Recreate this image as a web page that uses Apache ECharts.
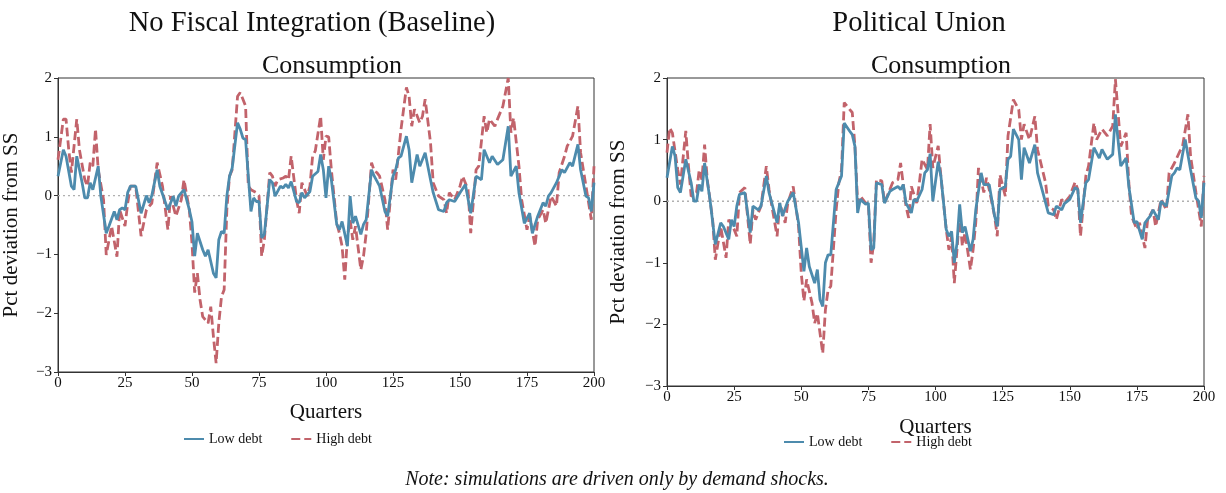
<!DOCTYPE html>
<html>
<head>
<meta charset="utf-8">
<script src="https://cdn.jsdelivr.net/npm/echarts@6/dist/echarts.min.js"></script>
<style>html,body{margin:0;padding:0;background:#fff}#c{width:1226px;height:493px}</style>
</head>
<body>
<div id="c"></div>
<script>
// ---- data ([quarter, pct deviation]) ----
const baseLow = [[0,0.33],[2,0.78],[3,0.67],[5,0.16],[6,0.10],[7,0.67],[9,0.22],[10,-0.04],[11,-0.04],[12,0.22],[13,0.10],[15,0.50],[16,-0.01],[18,-0.64],[19,-0.52],[21,-0.27],[22,-0.41],[23,-0.24],[24,-0.21],[25,-0.24],[26,0.05],[27,0.16],[29,0.16],[31,-0.30],[33,0.0],[34,-0.12],[35,0.0],[37,0.44],[38,0.16],[41,-0.24],[43,-0.01],[44,-0.18],[45,-0.01],[47,0.10],[49,-0.24],[50,-0.45],[51,-1.03],[52,-0.64],[54,-0.92],[55,-1.03],[56,-0.92],[58,-1.32],[59,-1.40],[60,-0.75],[61,-0.61],[62,-0.64],[63,-0.01],[64,0.33],[65,0.47],[67,1.24],[68,1.13],[69,0.98],[70,0.95],[72,-0.27],[73,-0.04],[74,-0.10],[75,-0.10],[76,-0.72],[77,-0.66],[79,0.27],[80,0.22],[81,-0.01],[83,0.16],[84,0.13],[85,0.19],[86,0.13],[87,0.24],[89,-0.10],[90,-0.12],[91,0.05],[92,-0.04],[94,0.07],[95,0.33],[97,0.41],[98,0.70],[99,0.44],[100,-0.04],[101,0.50],[102,0.27],[104,-0.49],[105,-0.58],[106,-0.44],[108,-0.86],[109,-0.01],[110,-0.47],[111,-0.35],[113,-0.66],[114,-0.49],[115,-0.41],[117,0.44],[118,0.33],[120,0.16],[122,-0.27],[123,-0.35],[125,0.33],[126,0.44],[127,0.64],[128,0.67],[130,1.01],[131,0.78],[132,0.22],[134,0.70],[135,0.50],[137,0.73],[139,0.27],[140,0.05],[142,-0.24],[144,-0.27],[145,-0.12],[146,-0.07],[148,-0.10],[150,0.05],[152,0.19],[154,-0.30],[156,0.33],[158,0.27],[159,0.78],[161,0.56],[162,0.67],[164,0.53],[166,0.61],[168,1.18],[169,0.33],[171,0.50],[172,0.05],[174,-0.47],[176,-0.30],[177,-0.64],[179,-0.35],[181,-0.12],[182,-0.18],[183,-0.01],[184,0.05],[186,0.22],[188,0.44],[189,0.39],[191,0.56],[192,0.50],[194,0.87],[195,0.44],[197,-0.01],[198,-0.04],[199,-0.27],[200,0.22]];

const baseHigh = [[0,0.61],[2,1.30],[3,1.30],[4,0.78],[5,0.39],[7,1.30],[8,0.78],[10,0.27],[11,0.16],[12,0.56],[13,0.50],[14,1.13],[15,0.44],[17,-0.07],[18,-1.01],[20,-0.52],[22,-1.04],[23,-0.24],[25,-0.52],[26,-0.13],[27,0.16],[29,0.16],[31,-0.69],[33,-0.24],[35,-0.13],[37,0.56],[39,0.16],[41,-0.58],[42,-0.01],[44,-0.35],[46,-0.07],[47,0.27],[49,-0.24],[50,-0.81],[51,-1.65],[52,-1.32],[53,-1.77],[54,-2.06],[56,-2.17],[57,-1.89],[58,-2.40],[59,-2.85],[60,-2.17],[61,-1.72],[62,-1.60],[63,-0.24],[64,0.33],[65,0.44],[67,1.69],[68,1.75],[69,1.64],[70,1.52],[71,0.16],[72,0.10],[74,0.05],[75,0.0],[76,-1.03],[77,-0.75],[79,0.39],[80,0.33],[81,0.16],[82,0.27],[84,0.30],[85,0.33],[86,0.27],[87,0.67],[89,-0.07],[90,-0.30],[91,0.22],[93,-0.01],[94,0.16],[95,0.67],[96,0.76],[98,1.35],[99,0.61],[100,1.01],[101,1.0],[102,0.44],[104,-0.47],[105,-0.64],[106,-0.86],[107,-1.43],[108,-0.70],[109,-0.41],[110,-0.75],[111,-0.52],[113,-1.26],[114,-1.03],[115,-0.64],[117,0.56],[118,0.42],[119,0.39],[120,0.33],[122,-0.07],[123,-0.58],[125,0.44],[126,0.27],[128,1.13],[130,1.84],[131,1.69],[132,1.18],[133,1.47],[135,1.24],[136,1.35],[137,1.64],[139,0.90],[140,0.22],[142,-0.01],[144,-0.07],[145,-0.30],[146,0.05],[148,-0.07],[150,0.16],[151,0.33],[153,0.10],[154,-0.64],[156,0.44],[157,0.50],[159,1.35],[160,1.07],[161,1.30],[163,1.18],[164,1.30],[166,1.52],[168,2.0],[169,1.07],[170,1.32],[172,0.50],[173,-0.07],[175,-0.58],[176,-0.35],[178,-0.86],[179,-0.41],[181,-0.24],[182,-0.47],[184,-0.01],[186,-0.18],[187,0.39],[189,0.67],[190,0.84],[192,1.01],[194,1.52],[195,0.73],[197,0.16],[199,-0.41],[200,0.50]];

const unionLow = [[0,0.38],[2,0.89],[3,0.73],[4,0.22],[5,0.14],[7,0.68],[9,0.30],[10,0.0],[11,0.0],[12,0.27],[13,0.16],[14,0.62],[16,0.03],[18,-0.70],[20,-0.35],[21,-0.41],[23,-0.62],[24,-0.30],[25,-0.41],[26,-0.08],[27,0.11],[29,0.14],[31,-0.51],[32,-0.08],[34,-0.14],[35,-0.08],[37,0.41],[38,0.14],[41,-0.35],[42,-0.03],[43,-0.24],[45,0.0],[47,0.14],[49,-0.35],[51,-1.14],[52,-0.76],[53,-1.06],[55,-1.33],[56,-1.11],[57,-1.60],[58,-1.71],[59,-1.00],[60,-0.87],[61,-0.87],[63,0.19],[65,0.41],[66,1.27],[68,1.14],[69,1.08],[70,0.89],[71,-0.19],[72,0.03],[74,-0.05],[75,-0.03],[76,-0.79],[77,-0.76],[78,0.30],[80,0.27],[81,-0.03],[83,0.16],[84,0.19],[86,0.24],[87,0.19],[88,0.27],[89,-0.03],[91,-0.19],[92,0.03],[93,0.0],[95,0.19],[96,0.46],[97,0.51],[98,0.77],[99,0.0],[101,0.64],[102,0.41],[104,-0.46],[105,-0.57],[106,-0.49],[107,-1.00],[108,-0.68],[109,-0.05],[110,-0.51],[111,-0.41],[113,-0.81],[114,-0.62],[115,-0.14],[117,0.46],[118,0.27],[120,0.27],[122,-0.24],[123,-0.41],[124,0.19],[126,0.24],[127,0.68],[128,0.73],[129,1.17],[131,1.00],[132,0.35],[133,0.87],[135,0.62],[137,0.92],[138,0.46],[140,0.14],[142,-0.19],[144,-0.22],[145,-0.08],[147,-0.14],[148,-0.04],[150,0.03],[152,0.22],[153,0.19],[154,-0.35],[156,0.30],[157,0.35],[159,0.87],[161,0.70],[162,0.84],[164,0.68],[166,0.76],[167,1.41],[169,0.57],[171,0.70],[172,0.24],[174,-0.35],[175,-0.33],[177,-0.62],[178,-0.35],[180,-0.24],[181,-0.14],[183,-0.30],[184,0.0],[186,-0.08],[188,0.41],[189,0.46],[190,0.54],[191,0.51],[193,1.00],[195,0.51],[197,0.05],[198,0.0],[199,-0.27],[200,0.30]];

const unionHigh = [[0,0.79],[1,1.19],[2,1.11],[4,0.51],[5,0.27],[7,1.14],[8,0.57],[9,0.08],[11,0.14],[12,0.51],[13,0.35],[14,0.92],[15,0.35],[17,-0.30],[18,-0.95],[20,-0.41],[22,-0.92],[23,-0.30],[25,-0.46],[26,-0.57],[27,0.14],[29,0.22],[31,-0.70],[32,-0.14],[33,-0.30],[35,-0.08],[37,0.57],[38,0.19],[41,-0.57],[42,-0.03],[44,-0.35],[45,-0.03],[47,0.24],[49,-0.41],[50,-1.17],[51,-1.62],[52,-1.27],[54,-1.65],[55,-1.98],[56,-1.82],[58,-2.47],[59,-1.76],[60,-1.44],[61,-1.38],[63,-0.14],[64,0.30],[65,0.51],[66,1.60],[68,1.49],[69,1.44],[70,0.89],[71,-0.03],[72,0.08],[74,-0.03],[75,-0.03],[76,-1.00],[77,-0.68],[78,0.35],[80,0.33],[81,-0.03],[83,0.19],[84,0.30],[86,0.35],[87,0.62],[89,-0.08],[90,-0.27],[91,0.24],[93,-0.03],[94,0.30],[95,0.68],[97,0.51],[98,1.25],[99,0.54],[101,0.90],[102,0.41],[104,-0.46],[105,-0.79],[106,-0.57],[107,-1.33],[108,-0.79],[109,-0.22],[110,-0.73],[111,-0.51],[113,-1.11],[114,-0.79],[115,-0.35],[116,0.54],[118,0.14],[119,0.38],[120,0.19],[122,-0.24],[123,-0.57],[124,0.43],[126,0.08],[127,1.06],[129,1.65],[131,1.49],[132,1.00],[133,1.25],[135,1.00],[137,1.38],[138,0.84],[141,0.30],[142,-0.08],[144,-0.14],[145,-0.30],[147,0.03],[148,-0.03],[150,0.08],[152,0.31],[153,0.19],[154,-0.57],[156,0.41],[157,0.57],[159,1.27],[160,1.00],[162,1.17],[164,1.06],[166,1.22],[167,1.98],[169,0.89],[171,1.11],[172,0.30],[173,-0.24],[175,-0.46],[176,-0.35],[178,-0.76],[179,-0.30],[181,-0.14],[182,-0.41],[184,0.03],[186,-0.14],[187,0.46],[189,0.62],[191,0.81],[192,0.89],[194,1.41],[195,0.73],[197,0.14],[199,-0.41],[200,0.41]];

const seriesNames = ['Low debt', 'High debt'];
const panelTitles = ['No Fiscal Integration (Baseline)', 'Political Union'];
const subTitle = 'Consumption';
const yLabel = 'Pct deviation from SS';
const xLabel = 'Quarters';
const noteText = 'Note: simulations are driven only by demand shocks.';
const zeroLine = [[0, 0], [200, 0]]; // steady-state reference level

// ---- styling ----
const BLUE = '#4d8bad';
const RED = '#c2636b';
const ZERO = '#b0b0b0';
const FONT = '"Liberation Serif", "DejaVu Serif", serif';

const grids = [
  {left: 57, top: 78, width: 537, height: 294},
  {left: 667, top: 78, width: 537, height: 308}
];

function xAxisFor(i) {
  return {
    gridIndex: i, type: 'value', min: 0, max: 200, interval: 25,
    name: xLabel, nameLocation: 'middle', nameGap: i === 0 ? 30 : 31,
    nameTextStyle: {fontFamily: FONT, fontSize: 21, color: '#111'},
    axisLine: {show: true, onZero: false, lineStyle: {color: '#333', width: 1}},
    axisTick: {show: true, length: 4, lineStyle: {color: '#333'}},
    axisLabel: {fontFamily: FONT, fontSize: 15, color: '#111', margin: 4},
    splitLine: {show: false}
  };
}
function yAxisFor(i) {
  return {
    gridIndex: i, type: 'value', min: -3, max: 2, interval: 1,
    name: yLabel, nameLocation: 'middle', nameGap: i === 0 ? 36 : 38,
    nameTextStyle: {fontFamily: FONT, fontSize: 21, color: '#111'},
    axisLine: {show: true, onZero: false, lineStyle: {color: '#333', width: 1}},
    axisTick: {show: true, length: 4, lineStyle: {color: '#333'}},
    axisLabel: {fontFamily: FONT, fontSize: 15, color: '#111', margin: 6,
      formatter: v => (v < 0 ? '\u2212' + Math.abs(v) : String(v))},
    splitLine: {show: false}
  };
}

function lineSeries(name, data, i, color, dashed) {
  return {
    name, type: 'line', xAxisIndex: i, yAxisIndex: i, data,
    showSymbol: false, symbol: 'none', smooth: false, clip: true,
    lineStyle: {color, width: 2.8, type: dashed ? [9, 4] : 'solid'},
    itemStyle: {color},
    z: dashed ? 3 : 4
  };
}
function zeroSeries(i) {
  return {
    name: 'zero', type: 'line', xAxisIndex: i, yAxisIndex: i, data: zeroLine,
    showSymbol: false, symbol: 'none', silent: true,
    lineStyle: {color: ZERO, width: 1.4, type: [2, 3]},
    z: 1
  };
}

const legendBase = {
  itemWidth: 20, itemHeight: 10, itemGap: 28,
  itemStyle: {opacity: 0},
  data: seriesNames,
  textStyle: {fontFamily: FONT, fontSize: 14, color: '#111'}
};

const option = {
  backgroundColor: '#fff',
  animation: false,
  title: [
    {text: panelTitles[0], left: 307, top: 4, textAlign: 'center',
      textStyle: {fontFamily: FONT, fontSize: 28.5, fontWeight: 'normal', color: '#111'}},
    {text: panelTitles[1], left: 914, top: 4, textAlign: 'center',
      textStyle: {fontFamily: FONT, fontSize: 28.5, fontWeight: 'normal', color: '#111'}},
    {text: subTitle, left: 327, top: 48, textAlign: 'center',
      textStyle: {fontFamily: FONT, fontSize: 26, fontWeight: 'normal', color: '#111'}},
    {text: subTitle, left: 936, top: 48, textAlign: 'center',
      textStyle: {fontFamily: FONT, fontSize: 26, fontWeight: 'normal', color: '#111'}},
    {text: noteText, left: 612, top: 465, textAlign: 'center',
      textStyle: {fontFamily: FONT, fontSize: 20, fontStyle: 'italic', fontWeight: 'normal', color: '#111'}}
  ],
  legend: [
    Object.assign({left: 178, top: 427}, legendBase),
    Object.assign({left: 778, top: 430}, legendBase)
  ],
  grid: grids.map(g => Object.assign({show: true, borderColor: '#333', borderWidth: 1, backgroundColor: 'transparent'}, g)),
  xAxis: [xAxisFor(0), xAxisFor(1)],
  yAxis: [yAxisFor(0), yAxisFor(1)],
  series: [
    zeroSeries(0),
    lineSeries(seriesNames[0], baseLow, 0, BLUE, false),
    lineSeries(seriesNames[1], baseHigh, 0, RED, true),
    zeroSeries(1),
    lineSeries(seriesNames[0], unionLow, 1, BLUE, false),
    lineSeries(seriesNames[1], unionHigh, 1, RED, true)
  ]
};

const chart = echarts.init(document.getElementById('c'), null, {renderer: 'canvas'});
chart.setOption(option);
</script>
</body>
</html>
